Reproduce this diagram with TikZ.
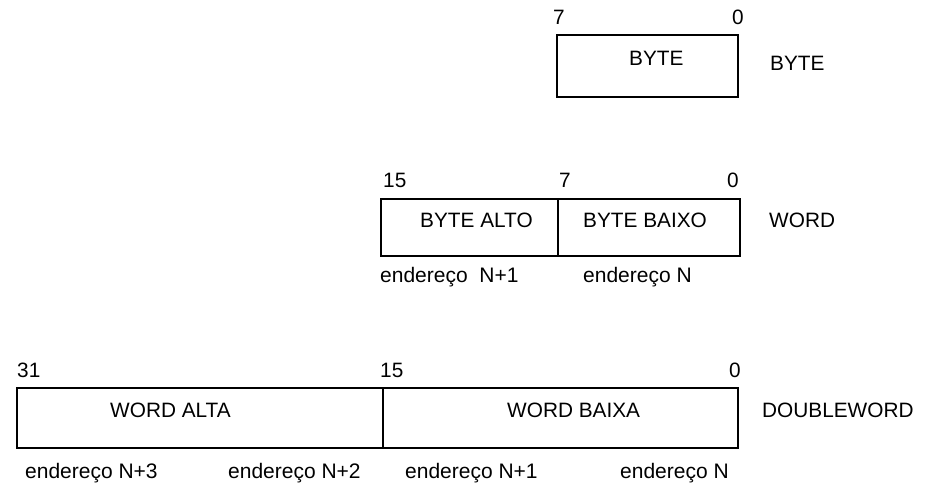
\documentclass[tikz,border=0pt]{standalone}
\usepackage{fontspec}
\setmainfont{Liberation Sans}
\begin{document}
\begin{tikzpicture}[x=1pt,y=-1pt,
  cell/.style={draw, line width=1.6pt, inner sep=0pt},
  lbl/.style={anchor=base west, inner sep=0pt, font=\fontsize{20.8}{24}\selectfont},
  addr/.style={anchor=base west, inner sep=0pt, font=\fontsize{21}{24}\selectfont}]
\useasboundingbox (0,0) rectangle (939,483);
% BYTE
\node[cell, minimum width=181pt, minimum height=62pt] (byte) at (647.5,66) {};
\node[lbl] (b7) at (553,24) {7};
\node[lbl] (b0) at (732,24) {0};
\node[lbl] (btxt) at (629,65) {BYTE};
\node[lbl] (bname) at (770,70) {BYTE};
% WORD
\node[cell, minimum width=177pt, minimum height=57pt] (whi) at (469.5,227.5) {};
\node[cell, minimum width=182pt, minimum height=57pt] (wlo) at (649,227.5) {};
\node[lbl] (w15) at (383,187) {15};
\node[lbl] (w7) at (559,187) {7};
\node[lbl] (w0) at (727,187) {0};
\node[lbl] (whitxt) at (420,227) {BYTE ALTO};
\node[lbl] (wlotxt) at (583,227) {BYTE BAIXO};
\node[lbl] (wname) at (769,227) {WORD};
\node[addr] (wa1) at (380,282) {endereço\ \ N+1};
\node[addr] (wa0) at (583,282) {endereço N};
% DOUBLEWORD
\node[cell, minimum width=366pt, minimum height=60pt] (dhi) at (200,418) {};
\node[cell, minimum width=355pt, minimum height=60pt] (dlo) at (560.5,418) {};
\node[lbl] (d31) at (17,377) {31};
\node[lbl] (d15) at (380,377) {15};
\node[lbl] (d0) at (729,377) {0};
\node[lbl] (dhitxt) at (110,417) {WORD ALTA};
\node[lbl] (dlotxt) at (507,417) {WORD BAIXA};
\node[lbl] (dname) at (762,417) {DOUBLEWORD};
\node[addr] (da3) at (25,478) {endereço N+3};
\node[addr] (da2) at (228,478) {endereço N+2};
\node[addr] (da1) at (405,478) {endereço N+1};
\node[addr] (da0) at (620,478) {endereço N};
\end{tikzpicture}
\end{document}
